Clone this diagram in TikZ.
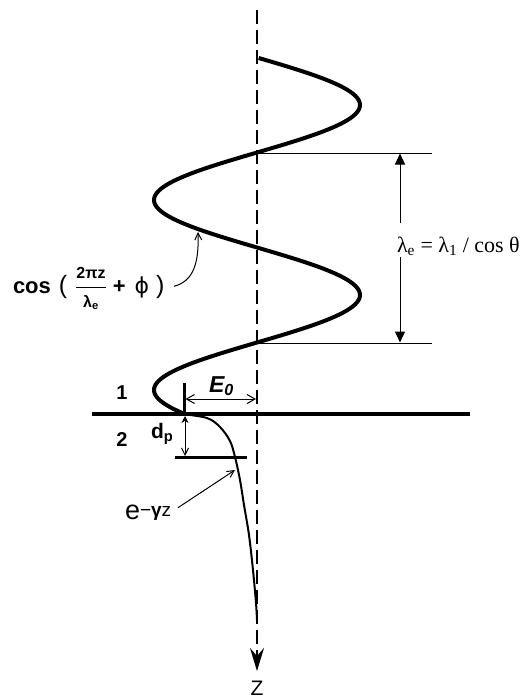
\documentclass[tikz,border=0pt]{standalone}
\usepackage{fontspec}
\usepackage{amsmath}
\setmainfont{Liberation Sans}
\newfontfamily\serifT{Liberation Serif}
\newfontfamily\dvs{DejaVu Sans}
\usetikzlibrary{arrows.meta}
\begin{document}
\begin{tikzpicture}[x=1pt,y=-1pt,
  axisline/.style={line width=2pt,dash pattern=on 14pt off 6pt},
  wave/.style={line width=4pt},
  interface/.style={line width=4pt},
  marker/.style={line width=3pt},
  dim/.style={line width=1pt},
  lab/.style={inner sep=0pt,outer sep=0pt},
]
\useasboundingbox (0,0) rectangle (530,698);
% axis
\coordinate (ax0) at (257,10);
\coordinate (ax1) at (257,671);
\draw[axisline,-{Stealth[length=23pt,width=14pt,inset=8pt]}] (ax0) -- (ax1);
\node[lab,anchor=base,font=\fontsize{21}{21}\selectfont] (zl) at (257,695) {Z};
% wave
\draw[wave] plot[domain=58:413,samples=200,variable=\t] ({257+103*cos(1.894737*(\t-105))},\t);
% interface
\coordinate (ifL) at (92,414);
\coordinate (ifR) at (470,414);
\draw[interface] (ifL) -- (ifR);
% E0 marker and arrow
\coordinate (m0) at (184,383);
\coordinate (m1) at (184,414);
\draw[marker] (m0) -- (m1);
\coordinate (e0a) at (185.5,399);
\coordinate (e0b) at (256,399);
\draw[dim,{Straight Barb[length=8pt,width=9pt]}-{Straight Barb[length=8pt,width=9pt]}] (e0a) -- (e0b);
\node[lab,anchor=base west] (e0l) at (209,392) {\fontsize{23}{23}\selectfont\bfseries\itshape E\textsubscript{0}};
% dp
\coordinate (dpa) at (185,416);
\coordinate (dpb) at (185,456);
\draw[dim,{Stealth[length=7pt,width=7pt]}-{Straight Barb[length=7pt,width=7pt]}] (dpa) -- (dpb);
\coordinate (dl0) at (175,457);
\coordinate (dl1) at (247,457);
\draw[marker] (dl0) -- (dl1);
\node[lab,anchor=base west] (dpl) at (151,438) {\fontsize{21}{21}\selectfont\bfseries d\textsubscript{p}};
% labels 1 2
\node[lab,anchor=base,font=\fontsize{20}{20}\selectfont\bfseries] (one) at (122,399) {1};
\node[lab,anchor=base,font=\fontsize{20}{20}\selectfont\bfseries] (two) at (122,446) {2};
% exponential
\coordinate (ex0) at (182,414);
\coordinate (ex1) at (257,620);
\draw[line width=2pt] plot[smooth,tension=0.55] coordinates {(ex0) (207,418) (220,427) (230,441) (235,457) (240,480) (244,505) (249,535) (253,570) (256,603) (ex1)};
\node[lab,anchor=base west] (elab) at (125,519) {{\fontsize{27}{27}\selectfont e}\raisebox{3pt}{\fontsize{19}{19}\selectfont −\textbf{γ}z}};
\coordinate (etip) at (235,470);
\draw[dim,-{Straight Barb[length=7pt,width=7pt]},shorten <=8pt] (elab.east) -- (etip);
% cos label
\node[lab,anchor=base west] (coslab) at (13,293) {\fontsize{22}{26}\selectfont{\bfseries cos}\hspace{8pt}{\fontsize{25}{26}\selectfont (}\hspace{8pt}$\genfrac{}{}{1.3pt}{0}{\text{\fontsize{16}{16}\selectfont\bfseries 2πz}}{\text{\fontsize{16}{16}\selectfont\bfseries λ\textsubscript{e}}}$\hspace{6pt}{\bfseries +}\hspace{9pt}{\dvs ϕ}\hspace{7pt}{\fontsize{25}{26}\selectfont )}};
\coordinate (ctip) at (198,232);
\draw[dim,-{Straight Barb[length=7pt,width=7pt]},shorten <=10pt] (coslab.east) .. controls (194,281) and (199,262) .. (ctip);
% lambda dimension
\coordinate (L1a) at (257,153);
\coordinate (L1b) at (432,153);
\coordinate (L2a) at (257,343);
\coordinate (L2b) at (432,343);
\draw[dim] (L1a) -- (L1b);
\draw[dim] (L2a) -- (L2b);
\node[lab,anchor=base west] (leq) at (397,252) {\serifT\fontsize{22}{22}\selectfont λ\textsubscript{e} = λ\textsubscript{1} / cos θ};
\coordinate (lu) at (400,223);
\coordinate (lt) at (400,153.5);
\coordinate (ld) at (400,257);
\coordinate (lb) at (400,342.5);
\draw[dim,-{Triangle[length=11pt,width=10pt]}] (lu) -- (lt);
\draw[dim,-{Triangle[length=11pt,width=10pt]}] (ld) -- (lb);
\end{tikzpicture}
\end{document}
